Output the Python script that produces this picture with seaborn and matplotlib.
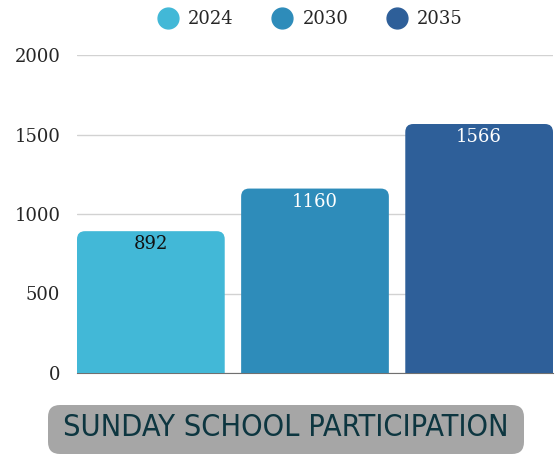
import pandas as pd
import seaborn as sns
import matplotlib.pyplot as plt
from matplotlib.patches import FancyBboxPatch
from matplotlib.lines import Line2D

years = ["2024", "2030", "2035"]
participants = [892, 1160, 1566]
colors = ["#42b8d7", "#2e8cba", "#2e5f99"]
label_colors = ["#111111", "white", "white"]
yticks = [0, 500, 1000, 1500, 2000]
title = "SUNDAY SCHOOL PARTICIPATION"

df = pd.DataFrame({"group": ["Sunday School"] * 3, "Year": years, "Participants": participants})

sns.set_style("white")
plt.rcParams["font.family"] = ["DejaVu Serif"]

W, H = 558, 455
fig = plt.figure(figsize=(W / 100, H / 100), dpi=100)
ax = fig.add_axes([77 / W, 1 - 373 / H, 476 / W, 318 / H])

sns.barplot(data=df, x="group", y="Participants", hue="Year", hue_order=years,
            palette=colors, width=1, gap=0.1, saturation=1, legend=False, ax=ax)

ax.set_ylim(0, 2000)
bars = list(ax.patches)
x_left = min(b.get_x() for b in bars)
x_right = max(b.get_x() + b.get_width() for b in bars)
ax.set_xlim(x_left, x_right)

# swap the flat bars for ones with rounded tops
px_x = (x_right - x_left) / 476
px_y = 2000 / 318
rx, ry = 8 * px_x, 8 * px_y
for b, c, lc, v in zip(sorted(bars, key=lambda p: p.get_x()), colors, label_colors, participants):
    x0, w, h = b.get_x(), b.get_width(), b.get_height()
    b.set_visible(False)
    ax.add_patch(FancyBboxPatch((x0, -ry), w, h + ry,
                                boxstyle=f"round,pad=0,rounding_size={rx}",
                                mutation_aspect=ry / rx, fc=c, ec="none", zorder=2))
    ax.text(x0 + w / 2, h - 13 * px_y, str(v), ha="center", va="center",
            color=lc, fontsize=13, zorder=3)

ax.set_yticks(yticks)
ax.yaxis.grid(True, color="#d2d2d2", lw=1)
ax.set_axisbelow(True)
for s in ["top", "right", "left"]:
    ax.spines[s].set_visible(False)
ax.spines["bottom"].set_color("#707070")
ax.spines["bottom"].set_zorder(1)
ax.tick_params(axis="y", length=0, pad=12, labelsize=13)
ax.set_xticks([])
ax.set_xlabel("")
ax.set_ylabel("")

handles = [Line2D([], [], marker="o", ls="", markersize=15, color=c) for c in colors]
fig.legend(handles, years, loc="center", bbox_to_anchor=(310 / W, 1 - 19 / H), ncol=3,
           frameon=False, fontsize=13, handlelength=1.2, handletextpad=0.5,
           columnspacing=2.1)

fig.patches.append(FancyBboxPatch((48 / W, 1 - 454 / H), 476 / W, 49 / H,
                                  boxstyle=f"round,pad=0,rounding_size={12 / W}",
                                  mutation_aspect=W / H, transform=fig.transFigure,
                                  fc="#a6a6a6", ec="none"))
fig.text(286 / W, 1 - 428 / H, title, ha="center", va="center", color="#0d3640",
         family="DejaVu Sans", fontstretch="condensed", fontsize=22)

fig.savefig("out.png", dpi=100)
